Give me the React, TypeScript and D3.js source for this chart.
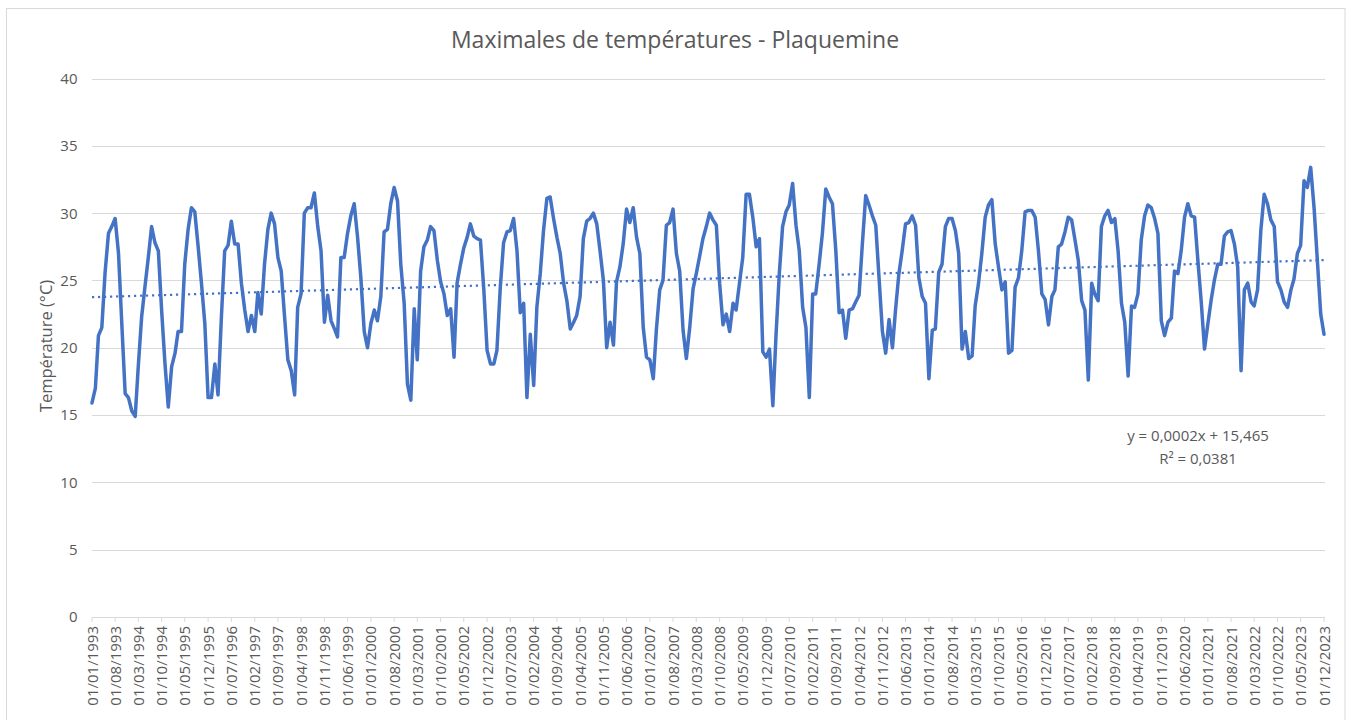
import React from "react";
import * as d3 from "d3";

const y1993 = [15.9, 17.0, 20.9, 21.5, 25.6, 28.5, 29.0, 29.6, 27.0, 21.8, 16.6, 16.3];
const y1994 = [15.3, 14.9, 18.6, 22.3, 24.5, 26.7, 29.0, 27.8, 27.2, 22.8, 18.8, 15.6];
const y1995 = [18.6, 19.6, 21.2, 21.2, 26.2, 28.8, 30.4, 30.1, 27.5, 24.8, 21.8, 16.3];
const y1996 = [16.3, 18.8, 16.5, 22.3, 27.2, 27.6, 29.4, 27.7, 27.7, 24.8, 22.8, 21.2];
const y1997 = [22.4, 21.2, 24.1, 22.5, 26.2, 28.8, 30.0, 29.2, 26.7, 25.7, 22.3, 19.1];
const y1998 = [18.3, 16.5, 23.0, 24.0, 30.0, 30.4, 30.4, 31.5, 29.0, 27.2, 21.9, 23.9];
const y1999 = [22.0, 21.4, 20.8, 26.7, 26.7, 28.5, 29.8, 30.7, 28.2, 25.2, 21.2, 20.0];
const y2000 = [21.8, 22.8, 22.0, 23.8, 28.6, 28.8, 30.7, 31.9, 30.9, 26.2, 23.3, 17.3];
const y2001 = [16.1, 22.9, 19.1, 25.7, 27.5, 28.0, 29.0, 28.7, 26.5, 24.9, 24.0, 22.4];
const y2002 = [22.9, 19.3, 24.8, 26.2, 27.4, 28.2, 29.2, 28.3, 28.1, 28.0, 24.3, 19.8];
const y2003 = [18.8, 18.8, 19.8, 24.5, 27.8, 28.6, 28.7, 29.6, 27.2, 22.6, 23.3, 16.3];
const y2004 = [21.0, 17.2, 23.0, 25.5, 28.7, 31.1, 31.2, 29.6, 28.2, 27.0, 24.8, 23.5];
const y2005 = [21.4, 21.9, 22.4, 23.8, 28.1, 29.4, 29.6, 30.0, 29.2, 27.2, 25.0, 20.0];
const y2006 = [21.9, 20.2, 24.9, 26.0, 27.7, 30.3, 29.3, 30.4, 28.2, 27.0, 21.5, 19.3];
const y2007 = [19.1, 17.7, 21.3, 24.3, 25.0, 29.1, 29.3, 30.3, 27.0, 25.7, 21.3, 19.2];
const y2008 = [21.5, 24.4, 25.5, 26.8, 28.1, 29.0, 30.0, 29.5, 29.1, 24.8, 21.7, 22.5];
const y2009 = [21.2, 23.3, 22.8, 24.8, 26.7, 31.4, 31.4, 29.7, 27.5, 28.1, 19.7, 19.3];
const y2010 = [19.9, 15.7, 20.8, 25.5, 29.0, 30.1, 30.6, 32.2, 29.1, 27.2, 23.0, 21.5];
const y2011 = [16.3, 24.0, 24.0, 26.2, 28.5, 31.8, 31.2, 30.7, 27.2, 22.6, 22.8, 20.7];
const y2012 = [22.8, 22.9, 23.4, 23.9, 27.7, 31.3, 30.6, 29.8, 29.1, 25.2, 21.2, 19.6];
const y2013 = [22.1, 20.0, 22.8, 25.5, 27.2, 29.2, 29.3, 29.8, 29.1, 25.2, 23.8, 23.3];
const y2014 = [17.7, 21.3, 21.4, 25.6, 26.2, 29.0, 29.6, 29.6, 28.7, 27.0, 19.9, 21.2];
const y2015 = [19.2, 19.4, 23.1, 24.8, 27.0, 29.7, 30.6, 31.0, 27.7, 26.0, 24.3, 24.9];
const y2016 = [19.6, 19.8, 24.5, 25.2, 27.2, 30.1, 30.2, 30.2, 29.7, 27.2, 24.0, 23.6];
const y2017 = [21.7, 23.8, 24.3, 27.5, 27.7, 28.6, 29.7, 29.5, 28.0, 26.5, 23.5, 22.8];
const y2018 = [17.6, 24.8, 24.0, 23.5, 29.0, 29.8, 30.2, 29.3, 29.6, 27.2, 23.3, 21.9];
const y2019 = [17.9, 23.1, 23.0, 24.0, 28.0, 29.8, 30.6, 30.4, 29.6, 28.5, 22.0, 20.9];
const y2020 = [21.9, 22.2, 25.7, 25.5, 27.2, 29.7, 30.7, 29.8, 29.7, 26.5, 23.4, 19.9];
const y2021 = [21.8, 23.6, 25.0, 26.2, 26.2, 28.3, 28.6, 28.7, 27.7, 26.0, 18.3, 24.3];
const y2022 = [24.8, 23.4, 23.1, 24.3, 28.7, 31.4, 30.7, 29.5, 29.0, 24.9, 24.3, 23.4];
const y2023 = [23.0, 24.3, 25.1, 27.0, 27.6, 32.4, 31.9, 33.4, 30.4, 26.5, 22.5, 21.0];

const YEARS = [
  y1993, y1994, y1995, y1996, y1997, y1998, y1999, y2000, y2001, y2002, y2003,
  y2004, y2005, y2006, y2007, y2008, y2009, y2010, y2011, y2012, y2013, y2014,
  y2015, y2016, y2017, y2018, y2019, y2020, y2021, y2022, y2023,
];
const START_YEAR = 1993;
const Y_TICKS = [0, 5, 10, 15, 20, 25, 30, 35, 40];
const TICK_STEP_MONTHS = 7;
const TREND_SLOPE = 0.000244; // per Excel day serial
const TREND_INTERCEPT = 15.465;
const TITLE = "Maximales de températures - Plaquemine";
const Y_TITLE = "Température (°C)";
const EQ_LINE1 = "y = 0,0002x + 15,465";
const EQ_LINE2 = "R² = 0,0381";

const values: number[] = YEARS.flat();
const startDate = new Date(Date.UTC(START_YEAR, 0, 1));
const series = values.map((v, i) => ({ date: d3.utcMonth.offset(startDate, i), v }));
const endDate = series[series.length - 1].date;

const excelSerial = (d: Date) => (d.getTime() - Date.UTC(1899, 11, 30)) / 86400000;

const FONT = "'Open Sans', 'Noto Sans', sans-serif";
const GREY = "#595959";
const GRID = "#d9d9d9";
const BLUE = "#4472C4";

export default function App() {
  const left = 92, right = 1324, top = 78.5, bottom = 617;
  const x = d3.scaleUtc().domain([startDate, endDate]).range([left, right]);
  const y = d3.scaleLinear().domain([0, 40]).range([bottom, top]);
  const line = d3.line<{ date: Date; v: number }>().x(d => x(d.date)).y(d => y(d.v));
  const fmt = d3.utcFormat("%d/%m/%Y");
  const tickIdx = d3.range(0, values.length, TICK_STEP_MONTHS);
  const trend = [startDate, endDate].map(d => ({ date: d, v: TREND_SLOPE * excelSerial(d) + TREND_INTERCEPT }));

  return (
    <svg width={1351} height={720} style={{ position: "absolute", left: 0, top: 0, background: "#fff" }} fontFamily={FONT}>
      <rect x={0} y={0} width={1351} height={720} fill="#fff" />
      <rect x={6.5} y={8.5} width={1338.5} height={720} fill="#fff" stroke={GRID} strokeWidth={1} />
      <text x={675} y={48} textAnchor="middle" fontSize={23} fill={GREY}>{TITLE}</text>
      {Y_TICKS.map(t => (
        <g key={t}>
          <line x1={left} x2={right + 1} y1={Math.round(y(t)) + 0.5} y2={Math.round(y(t)) + 0.5} stroke={GRID} strokeWidth={1} />
          <text x={77.5} y={y(t)} dy="0.36em" textAnchor="end" fontSize={15} fill={GREY}>{t}</text>
        </g>
      ))}
      {tickIdx.map(i => {
        const tx = x(series[i].date);
        return (
          <g key={i}>
            <line x1={tx} x2={tx} y1={bottom} y2={bottom + 5} stroke={GRID} strokeWidth={1} />
            <text transform={`translate(${tx + 5.5},${bottom + 9}) rotate(-90)`} textAnchor="end" fontSize={15} fill={GREY}>
              {fmt(series[i].date)}
            </text>
          </g>
        );
      })}
      <text transform={`translate(51.5,346) rotate(-90)`} textAnchor="middle" fontSize={16.5} fill={GREY}>{Y_TITLE}</text>
      <path d={line(series) || ""} fill="none" stroke={BLUE} strokeWidth={3.5} strokeLinejoin="round" strokeLinecap="round" />
      <path d={line(trend) || ""} fill="none" stroke={BLUE} strokeWidth={2.2} strokeDasharray="2.2 3.8" />
      <text x={1198} y={441} textAnchor="middle" fontSize={15} fill={GREY}>{EQ_LINE1}</text>
      <text x={1198} y={464} textAnchor="middle" fontSize={15} fill={GREY}>{EQ_LINE2}</text>
    </svg>
  );
}
